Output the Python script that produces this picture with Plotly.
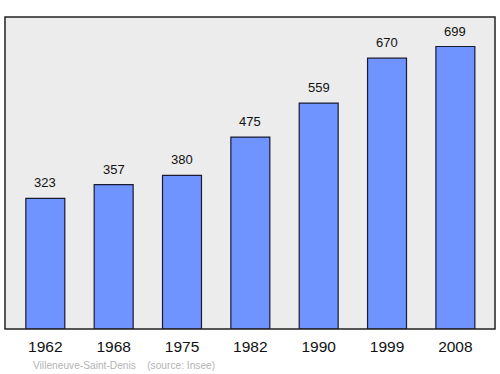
import plotly.graph_objects as go

years = ["1962", "1968", "1975", "1982", "1990", "1999", "2008"]
population = [323, 357, 380, 475, 559, 670, 699]
source_label = "Villeneuve-Saint-Denis    (source: Insee)"

fig = go.Figure()
fig.add_trace(go.Bar(
    x=years, y=population,
    width=0.57,
    marker=dict(color="#7094ff", line=dict(color="#1a1a2e", width=1.2)),
    hoverinfo="skip",
))

for i, v in enumerate(population):
    fig.add_annotation(x=i, y=v, text=str(v), showarrow=False,
                       yanchor="bottom", yshift=6,
                       font=dict(family="Liberation Sans, Arial", size=13, color="#111"))

fig.add_annotation(xref="paper", yref="paper", x=(31-5)/490, y=-(365-329)/312,
                   xanchor="left", yanchor="middle", showarrow=False,
                   text=source_label.replace(" ", "&nbsp;"),
                   font=dict(family="Liberation Sans, Arial", size=10.2, color="#b4b4b4"))

fig.add_shape(type="rect", xref="paper", yref="paper", x0=0, y0=0, x1=1, y1=1,
              line=dict(color="#222", width=1.5), layer="above")

fig.update_layout(
    width=500, height=374,
    margin=dict(l=5, r=5, t=17, b=45),
    paper_bgcolor="white", plot_bgcolor="#ececec",
    showlegend=False,
    xaxis=dict(type="category", range=[-0.59, 6.58], showgrid=False, zeroline=False,
               tickfont=dict(family="Liberation Sans, Arial", size=15.5, color="#111"),
               ticks="", ticklabelstandoff=6),
    yaxis=dict(range=[0, 772], showgrid=False, zeroline=False, showticklabels=False, ticks=""),
)

fig.write_html("out.html")
